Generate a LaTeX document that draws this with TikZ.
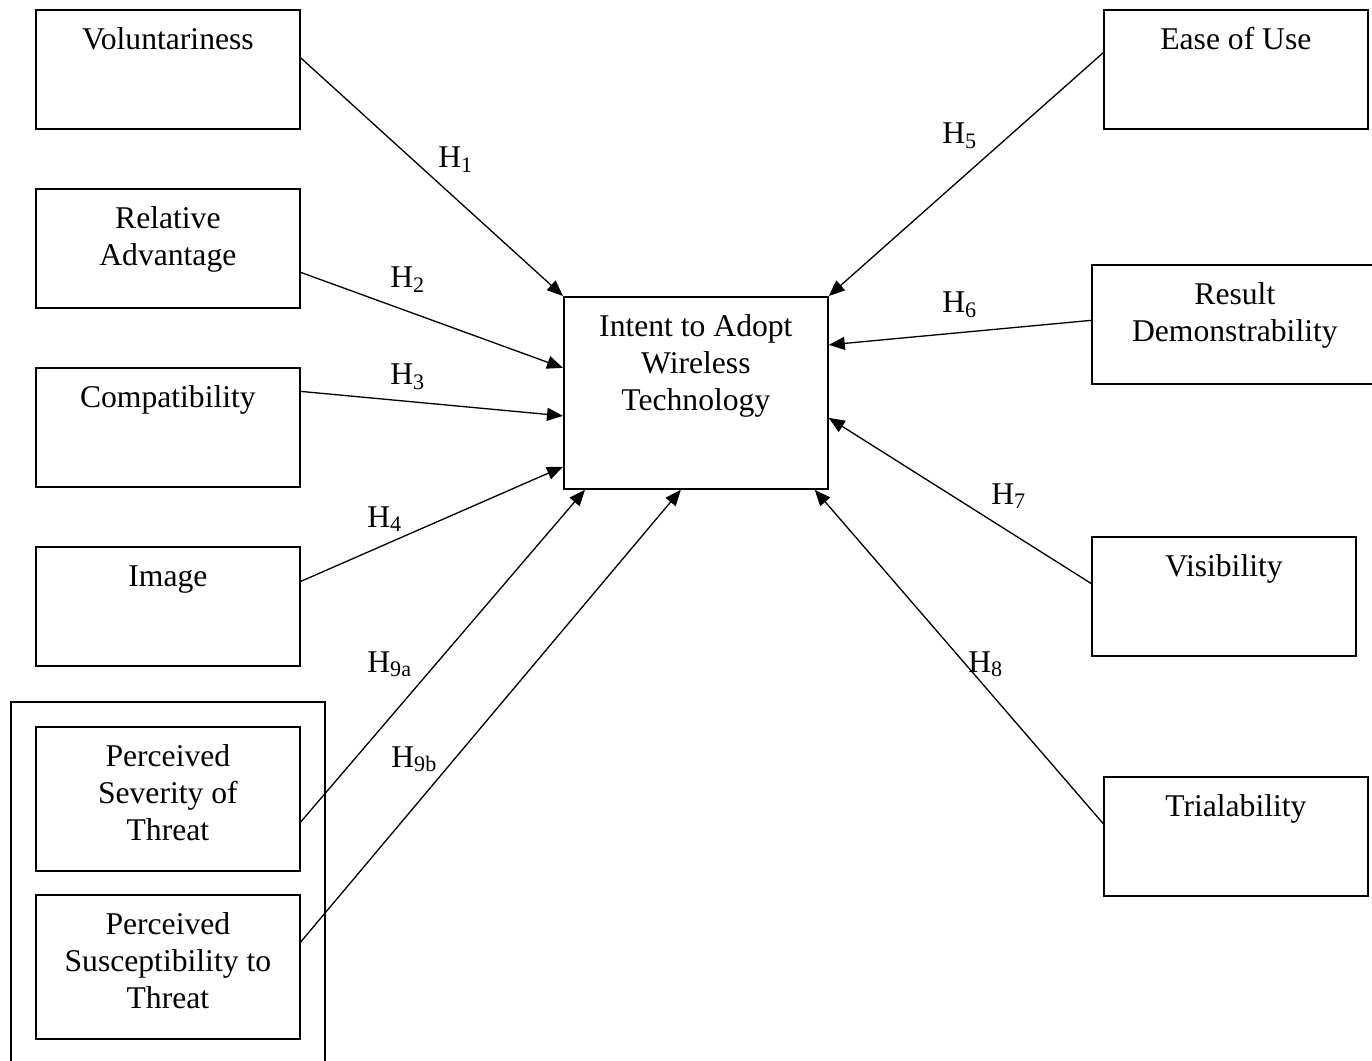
\documentclass[tikz,border=0pt]{standalone}
\usepackage{fontspec}
\setmainfont{Liberation Serif}
\usetikzlibrary{arrows.meta,positioning,fit,calc}
\tikzset{
  figtext/.style={font=\fontsize{18}{21}\selectfont, text=black},
  factorbox/.style={draw=black, line width=1pt, inner sep=0pt, anchor=north west, align=flush center,
    text width=5.28cm, text height=0.80cm, text depth=1.58cm},
  tallbox/.style={factorbox, text depth=2.08cm},
  groupbox/.style={draw=black, line width=1pt, inner sep=0.48cm},
  hyparrow/.style={-{Triangle[length=0.32cm, width=0.26cm]}, line width=0.75pt, draw=black},
  hyplabel/.style={figtext, anchor=base west, inner sep=0pt}
}

\begin{document}
\begin{tikzpicture}[every node/.style={figtext}]
\useasboundingbox (0,0) rectangle (27.44,-21.22);
\clip (0,0) rectangle (27.44,-21.22);

\node[factorbox] (vol) at (0.70,-0.18) {Voluntariness};
\node[factorbox, below=1.165cm of vol] (rel) {Relative\\Advantage};
\node[factorbox, below=1.165cm of rel] (comp) {Compatibility};
\node[factorbox, below=1.165cm of comp] (img) {Image};
\node[tallbox, below=1.185cm of img] (sev) {Perceived\\Severity of\\Threat};
\node[tallbox, below=0.445cm of sev] (sus) {Perceived\\Susceptibility to\\Threat};
\node[groupbox, fit=(sev)(sus)] (threat) {};

\node[factorbox, text depth=3.04cm] (intent) at (11.26,-5.92) {Intent to Adopt\\Wireless\\Technology};

\node[factorbox] (ease) at (22.06,-0.18) {Ease of Use};
\node[factorbox, text width=5.72cm] (result) at (21.82,-5.28) {Result\\Demonstrability};
\node[factorbox] (vis) at (21.82,-10.72) {Visibility};
\node[factorbox] (trial) at (22.06,-15.52) {Trialability};

\draw[hyparrow] ([yshift=0.23cm]vol.east) -- (intent.north west);
\draw[hyparrow] ([yshift=-0.48cm]rel.east) -- ([yshift=0.50cm]intent.west);
\draw[hyparrow] ([yshift=0.72cm]comp.east) -- ([yshift=-0.46cm]intent.west);
\draw[hyparrow] ([yshift=0.50cm]img.east) -- ([yshift=0.46cm]intent.south west);
\draw[hyparrow] ([yshift=-0.46cm]sev.east) -- ([xshift=0.44cm]intent.south west);
\draw[hyparrow] ([yshift=0.50cm]sus.east) -- ([xshift=-0.30cm]intent.south);
\draw[hyparrow] ([yshift=0.33cm]ease.west) -- (intent.north east);
\draw[hyparrow] ([yshift=0.08cm]result.west) -- ([yshift=0.96cm]intent.east);
\draw[hyparrow] ([yshift=0.26cm]vis.west) -- ([yshift=-0.50cm]intent.east);
\draw[hyparrow] ([yshift=0.26cm]trial.west) -- ([xshift=-0.28cm]intent.south east);

\foreach \name/\pos/\sub in {h1/{8.76,-3.36}/1, h2/{7.80,-5.76}/2, h3/{7.80,-7.70}/3,
    h4/{7.34,-10.54}/4, h5/{18.84,-2.88}/5, h6/{18.84,-6.26}/6, h7/{19.82,-10.08}/7,
    h8/{19.36,-13.44}/8, h9a/{7.34,-13.44}/{9a}, h9b/{7.82,-15.34}/{9b}} {
  \node[hyplabel] (\name) at (\pos) {H\textsubscript{\sub}};
}
\end{tikzpicture}
\end{document}
